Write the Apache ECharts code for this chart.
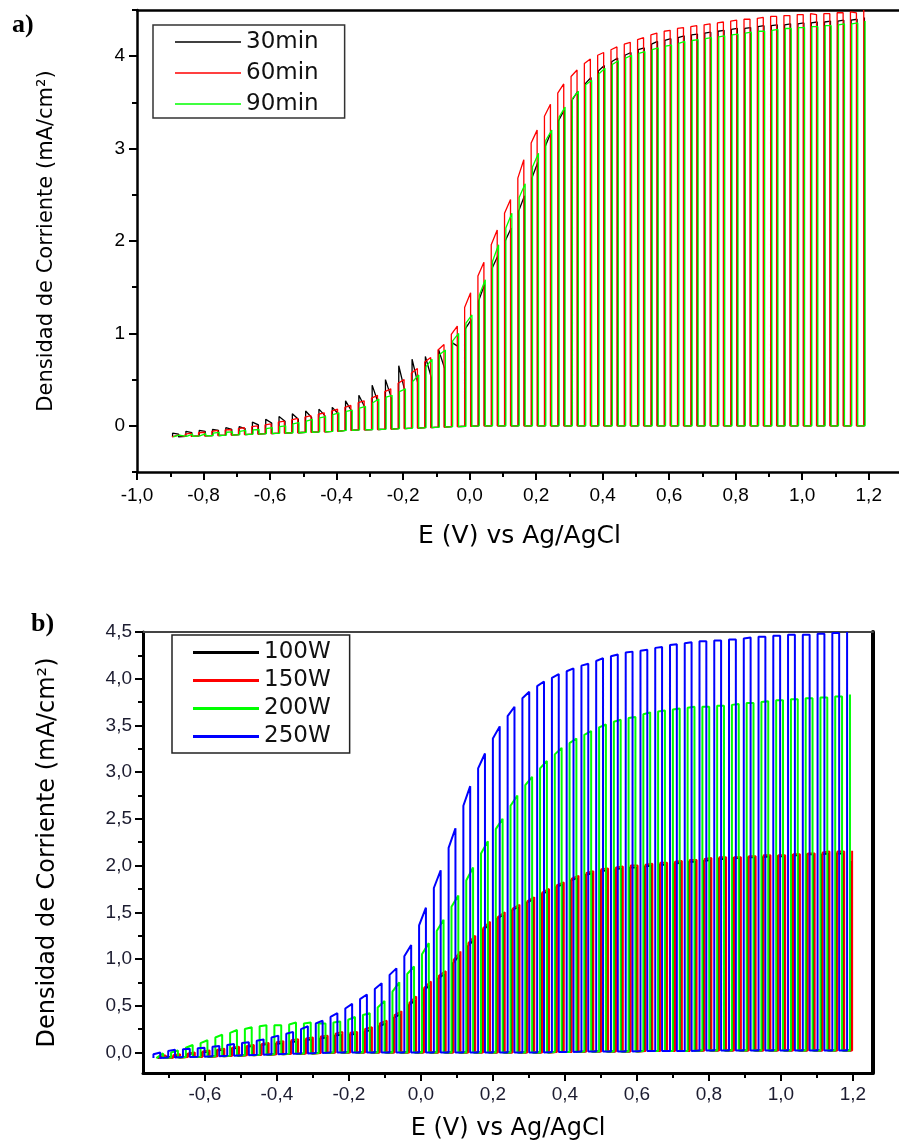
<!DOCTYPE html>
<html>
<head>
<meta charset="utf-8">
<script src="https://cdn.jsdelivr.net/npm/echarts@6/dist/echarts.min.js"></script>
<style>html,body{margin:0;padding:0;background:#fff}#c{width:899px;height:1143px}</style>
</head>
<body>
<div id="c"></div>
<script>
// ---------- Panel a) : chopped-light voltammetry, deposition time ----------
// potential (V vs Ag/AgCl) at which the light is switched on, one per pulse
const lightOnA = [-0.895,-0.855,-0.815,-0.775,-0.735,-0.695,-0.655,-0.615,-0.575,-0.535,-0.495,-0.455,-0.415,-0.375,-0.335,-0.295,-0.255,-0.215,-0.175,-0.135,-0.095,-0.055,-0.015,0.025,0.065,0.105,0.145,0.185,0.225,0.265,0.305,0.345,0.385,0.425,0.465,0.505,0.545,0.585,0.625,0.665,0.705,0.745,0.785,0.825,0.865,0.905,0.945,0.985,1.025,1.065,1.105,1.145,1.185];
const lightWidthA = 0.018;          // V swept while the light is on
const darkA = [-0.12,-0.115,-0.11,-0.105,-0.10,-0.095,-0.09,-0.085,-0.08,-0.075,-0.07,-0.065,-0.06,-0.05,-0.045,-0.04,-0.035,-0.03,-0.025,-0.02,-0.015,-0.01,-0.005,0,0,0,0,0,0,0,0,0,0,0,0,0,0,0,0,0,0,0,0,0,0,0,0,0,0,0,0,0,0];
// current just after light-on (spike) and just before light-off (top), mA/cm2
const spike30 = [-0.08,-0.06,-0.05,-0.04,-0.02,-0.01,0.04,0.07,0.10,0.13,0.16,0.18,0.20,0.27,0.33,0.44,0.50,0.65,0.72,0.75,0.82,0.90,1.05,1.35,1.70,2.00,2.32,2.68,3.02,3.30,3.52,3.70,3.84,3.94,4.01,4.07,4.13,4.17,4.20,4.23,4.25,4.27,4.29,4.30,4.32,4.33,4.34,4.35,4.36,4.37,4.38,4.39,4.42];
const top30   = [-0.09,-0.075,-0.06,-0.05,-0.04,-0.03,0.01,0.03,0.05,0.07,0.09,0.11,0.13,0.16,0.20,0.25,0.30,0.38,0.45,0.52,0.62,0.86,1.15,1.53,1.84,2.14,2.49,2.85,3.18,3.42,3.62,3.77,3.90,3.98,4.04,4.09,4.16,4.19,4.22,4.24,4.26,4.28,4.30,4.31,4.33,4.34,4.35,4.36,4.37,4.38,4.39,4.40];
const spike60 = [-0.11,-0.09,-0.075,-0.06,-0.045,-0.03,-0.01,0.01,0.04,0.065,0.095,0.125,0.16,0.20,0.25,0.30,0.37,0.46,0.57,0.69,0.82,0.99,1.28,1.62,1.96,2.30,2.68,3.06,3.35,3.60,3.78,3.92,4.01,4.07,4.13,4.18,4.23,4.27,4.30,4.32,4.34,4.36,4.38,4.40,4.41,4.43,4.44,4.45,4.46,4.46,4.47,4.48,4.50];
const top60   = [-0.10,-0.08,-0.07,-0.05,-0.04,-0.02,0.00,0.02,0.05,0.08,0.11,0.14,0.18,0.22,0.27,0.33,0.40,0.50,0.62,0.74,0.88,1.08,1.44,1.77,2.12,2.45,2.88,3.20,3.48,3.70,3.85,3.97,4.04,4.10,4.15,4.20,4.25,4.28,4.31,4.33,4.35,4.37,4.39,4.40,4.42,4.43,4.44,4.45,4.45,4.46,4.47,4.47];
const spike90 = [-0.11,-0.095,-0.09,-0.08,-0.07,-0.06,-0.045,-0.03,-0.01,0.02,0.05,0.085,0.12,0.155,0.19,0.25,0.31,0.37,0.48,0.64,0.77,0.92,1.11,1.41,1.78,2.14,2.47,2.80,3.09,3.34,3.54,3.69,3.81,3.91,3.98,4.03,4.07,4.11,4.14,4.17,4.19,4.21,4.23,4.25,4.27,4.28,4.30,4.31,4.32,4.33,4.34,4.35,4.38];
const top90   = [-0.10,-0.09,-0.085,-0.07,-0.065,-0.05,-0.04,-0.02,0.00,0.035,0.07,0.10,0.14,0.17,0.21,0.29,0.33,0.40,0.55,0.72,0.82,1.00,1.20,1.58,1.96,2.30,2.62,2.95,3.20,3.45,3.62,3.74,3.87,3.95,4.01,4.05,4.09,4.12,4.16,4.18,4.20,4.22,4.24,4.26,4.27,4.29,4.30,4.31,4.32,4.33,4.35,4.36];
const namesA = ['30min','60min','90min'];
const shiftA = [0.002, 0, 0.004];
const xTicksA = [-1.0,-0.8,-0.6,-0.4,-0.2,0.0,0.2,0.4,0.6,0.8,1.0,1.2];
const xMinorA = [-0.9,-0.7,-0.5,-0.3,-0.1,0.1,0.3,0.5,0.7,0.9,1.1];
const yTicksA = [0,1,2,3,4];
const yMinorA = [-0.5,0.5,1.5,2.5,3.5,4.5];

// ---------- Panel b) : chopped-light voltammetry, lamp power ----------
const lightOnB = [-0.743,-0.702,-0.661,-0.620,-0.579,-0.538,-0.497,-0.456,-0.415,-0.374,-0.333,-0.292,-0.251,-0.210,-0.169,-0.128,-0.087,-0.046,-0.005,0.036,0.077,0.118,0.159,0.200,0.241,0.282,0.323,0.364,0.405,0.446,0.487,0.528,0.569,0.610,0.651,0.692,0.733,0.774,0.815,0.856,0.897,0.938,0.979,1.020,1.061,1.102,1.143,1.184];
const lightWidthB = 0.019;
const darkB = [-0.06,-0.055,-0.05,-0.045,-0.04,-0.035,-0.03,-0.025,-0.02,-0.015,-0.01,-0.005,0,0,0,0,0,0,0,0,0,0,0,0,0,0,0,0.005,0.005,0.01,0.01,0.01,0.01,0.015,0.015,0.015,0.015,0.02,0.02,0.02,0.02,0.02,0.02,0.02,0.02,0.02,0.02,0.02];
const spike100 = [-0.05,-0.04,-0.02,0.00,0.02,0.04,0.06,0.08,0.09,0.11,0.13,0.15,0.18,0.19,0.22,0.28,0.37,0.50,0.66,0.79,0.95,1.13,1.30,1.43,1.52,1.60,1.69,1.77,1.84,1.90,1.94,1.96,1.98,1.99,2.01,2.02,2.04,2.05,2.07,2.08,2.09,2.09,2.10,2.11,2.12,2.12,2.13,2.05];
const top100   = [-0.04,-0.03,-0.01,0.01,0.03,0.05,0.07,0.09,0.10,0.12,0.14,0.16,0.19,0.20,0.24,0.31,0.41,0.56,0.72,0.84,1.04,1.21,1.37,1.48,1.56,1.64,1.73,1.80,1.87,1.92,1.95,1.97,1.98,2.00,2.01,2.03,2.04,2.06,2.07,2.08,2.09,2.10,2.10,2.11,2.12,2.13,2.13];
const spike150 = [-0.04,-0.03,-0.01,0.01,0.03,0.05,0.07,0.09,0.11,0.13,0.15,0.17,0.20,0.21,0.25,0.31,0.40,0.53,0.69,0.82,0.99,1.17,1.33,1.45,1.54,1.62,1.71,1.79,1.86,1.92,1.96,1.98,2.00,2.01,2.03,2.04,2.06,2.07,2.09,2.09,2.10,2.11,2.11,2.12,2.13,2.14,2.15,2.16];
const top150   = [-0.03,-0.02,0.00,0.02,0.04,0.06,0.08,0.10,0.12,0.14,0.16,0.18,0.22,0.22,0.27,0.34,0.44,0.60,0.76,0.87,1.08,1.25,1.40,1.50,1.58,1.66,1.75,1.82,1.89,1.94,1.97,1.99,2.00,2.02,2.03,2.05,2.06,2.08,2.09,2.09,2.10,2.11,2.11,2.12,2.13,2.15,2.15];
const spike200 = [-0.04,0.00,0.05,0.10,0.16,0.21,0.25,0.28,0.29,0.30,0.31,0.31,0.32,0.35,0.40,0.48,0.65,0.84,1.05,1.30,1.56,1.84,2.13,2.39,2.64,2.86,3.04,3.19,3.31,3.40,3.48,3.54,3.58,3.62,3.65,3.67,3.69,3.70,3.71,3.72,3.74,3.75,3.77,3.78,3.79,3.80,3.81,3.83];
const top200   = [-0.01,0.02,0.08,0.13,0.19,0.24,0.27,0.29,0.29,0.32,0.32,0.31,0.33,0.38,0.42,0.55,0.75,0.92,1.17,1.42,1.68,1.98,2.26,2.50,2.75,2.95,3.12,3.26,3.36,3.44,3.51,3.56,3.59,3.64,3.66,3.68,3.70,3.70,3.71,3.73,3.74,3.76,3.77,3.78,3.79,3.80,3.81];
const spike250 = [-0.02,0.015,0.035,0.045,0.06,0.08,0.10,0.125,0.16,0.20,0.25,0.31,0.38,0.47,0.57,0.68,0.83,1.03,1.36,1.76,2.19,2.64,3.04,3.36,3.60,3.79,3.92,4.01,4.08,4.14,4.19,4.24,4.28,4.30,4.33,4.36,4.38,4.40,4.41,4.42,4.43,4.45,4.46,4.47,4.47,4.48,4.49,4.50];
const top250   = [0.00,0.03,0.04,0.05,0.07,0.09,0.11,0.14,0.18,0.22,0.28,0.34,0.42,0.52,0.62,0.74,0.90,1.15,1.55,1.95,2.40,2.85,3.20,3.49,3.70,3.86,3.97,4.05,4.11,4.16,4.22,4.26,4.29,4.31,4.34,4.37,4.39,4.40,4.41,4.42,4.44,4.45,4.46,4.47,4.47,4.48,4.49];
const namesB = ['100W','150W','200W','250W'];
const shiftB = [0.011, 0.014, 0.008, 0];
const xTicksB = [-0.6,-0.4,-0.2,0.0,0.2,0.4,0.6,0.8,1.0,1.2];
const xMinorB = [-0.7,-0.5,-0.3,-0.1,0.1,0.3,0.5,0.7,0.9,1.1];
const yTicksB = [0,0.5,1.0,1.5,2.0,2.5,3.0,3.5,4.0,4.5];
const yMinorB = [0.25,0.75,1.25,1.75,2.25,2.75,3.25,3.75,4.25];

const colors = {k:'#000000', r:'#ff0000', g:'#00ff00', b:'#0000ff'};

// square-wave (light on / light off) path built from the read values
function pulses(on, shift, width, dark, spike, top) {
  const d = [];
  for (let k = 0; k < on.length; k++) {
    const e0 = +(on[k] + shift).toFixed(4);
    d.push([e0, dark[k]]);
    d.push([e0, spike[k]]);
    if (k < top.length) {
      const e1 = +(e0 + width).toFixed(4);
      d.push([e1, top[k]]);
      d.push([e1, dark[k]]);
    }
  }
  return d;
}

const comma1 = v => (Math.round(v * 10) / 10).toFixed(1).replace('.', ',');
const SANS = 'Liberation Sans';
const WIDE = 'DejaVu Sans';

function bottomAxis(grid, min, max, ticks, labelColor, lw, margin) {
  return {
    type: 'value', gridIndex: grid, position: 'bottom', min: min, max: max,
    axisLine: {show: true, onZero: false, lineStyle: {color: '#000', width: lw}},
    axisTick: {show: true, inside: false, length: 8, customValues: ticks, lineStyle: {color: '#000', width: 2}},
    axisLabel: {show: true, customValues: ticks, formatter: comma1, margin: margin,
      fontFamily: SANS, fontSize: 19, color: labelColor},
    splitLine: {show: false}
  };
}
function minorX(grid, min, max, ticks) {
  return {
    type: 'value', gridIndex: grid, position: 'bottom', min: min, max: max,
    axisLine: {show: false, onZero: false},
    axisTick: {show: true, inside: false, length: 5, customValues: ticks, lineStyle: {color: '#000', width: 2}},
    axisLabel: {show: false}, splitLine: {show: false}
  };
}
function frameX(grid, min, max, color, lw) {
  return {
    type: 'value', gridIndex: grid, position: 'top', min: min, max: max,
    axisLine: {show: true, onZero: false, lineStyle: {color: color, width: lw}},
    axisTick: {show: false}, axisLabel: {show: false}, splitLine: {show: false}
  };
}
function leftAxis(grid, min, max, ticks, fmt, labelColor, lw, margin) {
  return {
    type: 'value', gridIndex: grid, position: 'left', min: min, max: max,
    axisLine: {show: true, onZero: false, lineStyle: {color: '#000', width: lw}},
    axisTick: {show: true, inside: false, length: 8, customValues: ticks, lineStyle: {color: '#000', width: 2}},
    axisLabel: {show: true, customValues: ticks, formatter: fmt, margin: margin,
      fontFamily: SANS, fontSize: 19, color: labelColor},
    splitLine: {show: false}
  };
}
function minorY(grid, min, max, ticks) {
  return {
    type: 'value', gridIndex: grid, position: 'left', min: min, max: max,
    axisLine: {show: false, onZero: false},
    axisTick: {show: true, inside: false, length: 5, customValues: ticks, lineStyle: {color: '#000', width: 2}},
    axisLabel: {show: false}, splitLine: {show: false}
  };
}

const AX = {min: -1.0, max: 1.3}, AY = {min: -0.5, max: 4.5};
const BX = {min: -0.772, max: 1.256}, BY = {min: -0.22, max: 4.5};

const yName = 'Densidad de Corriente (mA/cm²)';

const xA = bottomAxis(0, AX.min, AX.max, xTicksA, '#000', 2.5, 14);
xA.name = 'E (V) vs Ag/AgCl'; xA.nameLocation = 'middle'; xA.nameGap = 52;
xA.nameTextStyle = {fontFamily: WIDE, fontSize: 25, color: '#000'};
const yA = leftAxis(0, AY.min, AY.max, yTicksA, v => String(v), '#000', 2.5, 12);
yA.name = yName; yA.nameLocation = 'middle'; yA.nameGap = 80;
yA.nameTextStyle = {fontFamily: WIDE, fontSize: 21, color: '#000'};

const xB = bottomAxis(1, BX.min, BX.max, xTicksB, '#1c1c30', 3, 12);
xB.name = 'E (V) vs Ag/AgCl'; xB.nameLocation = 'middle'; xB.nameGap = 44;
xB.nameTextStyle = {fontFamily: WIDE, fontSize: 24, color: '#000'};
const yB = leftAxis(1, BY.min, BY.max, yTicksB, comma1, '#1c1c30', 3, 11);
yB.name = yName; yB.nameLocation = 'middle'; yB.nameGap = 83;
yB.nameTextStyle = {fontFamily: WIDE, fontSize: 24, color: '#000'};
const rightB = {
  type: 'value', gridIndex: 1, position: 'right', min: BY.min, max: BY.max,
  axisLine: {show: true, onZero: false, lineStyle: {color: '#000', width: 4}},
  axisTick: {show: false}, axisLabel: {show: false}, splitLine: {show: false}
};

const seriesA = [
  {name: namesA[0], color: colors.k, data: pulses(lightOnA, shiftA[0], lightWidthA, darkA, spike30, top30)},
  {name: namesA[1], color: colors.r, data: pulses(lightOnA, shiftA[1], lightWidthA, darkA, spike60, top60)},
  {name: namesA[2], color: colors.g, data: pulses(lightOnA, shiftA[2], lightWidthA, darkA, spike90, top90)}
].map(s => ({type: 'line', name: s.name, xAxisIndex: 0, yAxisIndex: 0, data: s.data,
  symbol: 'none', clip: true, itemStyle: {color: s.color}, lineStyle: {color: s.color, width: 1.3}}));

const seriesB = [
  {name: namesB[0], color: colors.k, data: pulses(lightOnB, shiftB[0], lightWidthB, darkB, spike100, top100)},
  {name: namesB[1], color: colors.r, data: pulses(lightOnB, shiftB[1], lightWidthB, darkB, spike150, top150)},
  {name: namesB[2], color: colors.g, data: pulses(lightOnB, shiftB[2], lightWidthB, darkB, spike200, top200)},
  {name: namesB[3], color: colors.b, data: pulses(lightOnB, shiftB[3], lightWidthB, darkB, spike250, top250)}
].map(s => ({type: 'line', name: s.name, xAxisIndex: 3, yAxisIndex: 2, data: s.data,
  symbol: 'none', clip: true, itemStyle: {color: s.color}, lineStyle: {color: s.color, width: 2}}));

const chart = echarts.init(document.getElementById('c'), null, {renderer: 'canvas'});
chart.setOption({
  animation: false,
  backgroundColor: '#ffffff',
  grid: [
    {left: 137, top: 10, width: 765, height: 462, outerBoundsMode: 'none', containLabel: false},
    {left: 143, top: 632, width: 730, height: 441, outerBoundsMode: 'none', containLabel: false}
  ],
  xAxis: [
    xA, minorX(0, AX.min, AX.max, xMinorA), frameX(0, AX.min, AX.max, '#000', 2.5),
    xB, minorX(1, BX.min, BX.max, xMinorB), frameX(1, BX.min, BX.max, '#444', 2)
  ],
  yAxis: [
    yA, minorY(0, AY.min, AY.max, yMinorA),
    yB, minorY(1, BY.min, BY.max, yMinorB), rightB
  ],
  legend: [
    {data: namesA.map(n => ({name: n, icon: 'rect'})), orient: 'vertical', left: 153, top: 25, padding: [5, 26, 2, 22],
     itemWidth: 66, itemHeight: 1.4, itemGap: 7, borderColor: '#333', borderWidth: 1.5,
     backgroundColor: '#fff',
     textStyle: {fontFamily: WIDE, fontSize: 23, lineHeight: 24, color: '#111'}},
    {data: namesB.map(n => ({name: n, icon: 'rect'})), orient: 'vertical', left: 172, top: 635, padding: [6, 19, 5, 21],
     itemWidth: 66, itemHeight: 3, itemGap: 5, borderColor: '#222', borderWidth: 1.5,
     backgroundColor: '#fff',
     textStyle: {fontFamily: WIDE, fontSize: 23, lineHeight: 23, color: '#111'}}
  ],
  graphic: [
    {type: 'text', left: 12, top: 12, style: {text: 'a)', font: 'bold 26px "Liberation Serif"', fill: '#000'}},
    {type: 'text', left: 31, top: 611, style: {text: 'b)', font: 'bold 26px "Liberation Serif"', fill: '#000'}}
  ],
  series: seriesA.concat(seriesB)
});
</script>
</body>
</html>
